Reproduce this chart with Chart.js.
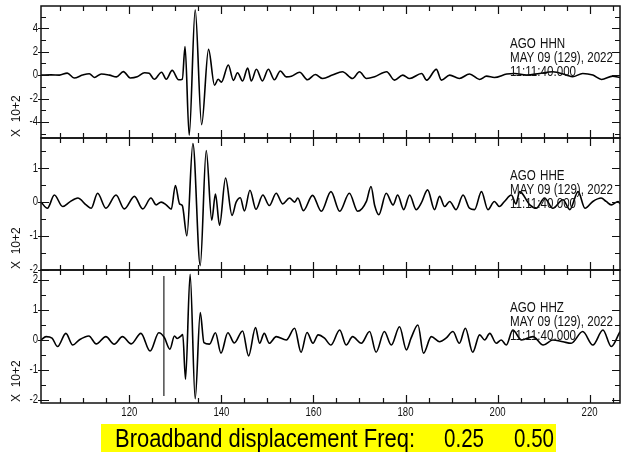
<!DOCTYPE html>
<html>
<head>
<meta charset="utf-8">
<script src="https://cdn.jsdelivr.net/npm/chart.js@4.4.1/dist/chart.umd.min.js"></script>
<style>
  html, body { margin: 0; padding: 0; background: #fff; }
  #wrap { position: relative; width: 622px; height: 452px; overflow: hidden; }
  #wrap canvas { position: absolute; left: 0; top: 0; }
  #banner {
    position: absolute; left: 101px; top: 424px; width: 455px; height: 28px;
    background: #ffff00; color: #000;
  }
  #banner span {
    position: absolute; top: 0; display: inline-block;
    font: 26px "Liberation Sans", sans-serif; line-height: 28px; white-space: pre;
    transform-origin: 0 0;
  }
</style>
</head>
<body>
<div id="wrap">
  <canvas id="c1" width="622" height="452"></canvas>
  <canvas id="c2" width="622" height="452"></canvas>
  <canvas id="c3" width="622" height="452"></canvas>
  <div id="banner"></div>
</div>
<script>
// axe du temps (s) commun aux trois traces
const X_MIN = 100.8, X_MAX = 226.6;
const xTicks = [120, 140, 160, 180, 200, 220];
const X_MINOR = 5;

// en-tête des traces
const station = 'AGO';
const dateLine = 'MAY 09 (129), 2022';
const timeLine = '11:11:40.000';
const scaleLabel = 'X  10+2';

// bandeau du bas
const bannerWords = ['Broadband displacement Freq:', '0.25', '0.50'];

// HHN (x 10+2)
const hhnT = [100.8,103.0,104.8,106.5,108.0,109.8,111.3,112.4,113.9,115.7,
  117.2,118.7,120.2,121.7,123.3,124.3,125.4,127.0,128.0,129.3,
  130.7,131.5,132.1,133.0,134.3,135.7,137.2,138.5,139.3,140.0,
  141.5,142.6,143.5,144.6,145.7,146.5,147.6,148.9,150.2,151.5,
  152.8,154.1,155.2,157.0,158.7,160.4,162.0,164.1,166.3,168.5,
  170.0,171.5,173.3,175.9,177.6,179.4,180.9,183.5,184.6,186.7,
  187.8,189.6,191.7,193.9,196.1,197.6,199.3,202.0,203.7,206.3,
  209.1,212.0,215.0,216.3,218.5,220.7,222.6,225.0,226.6];
const hhnV = [0,0.02,0,0.17,-0.25,0,0.12,-0.2,0.1,0,
  -0.15,0.3,-0.25,-0.15,0.2,0.15,-0.35,0.25,-0.35,0.4,
  -0.4,-0.35,2.43,-5.14,5.57,-4.23,2.2,-0.86,-0.35,-0.6,
  0.86,-0.45,0.2,-0.5,0.6,-0.5,0.5,-0.5,0.5,-0.4,
  0.35,-0.15,-0.1,0.25,-0.4,0.05,-0.29,0,0.29,-0.29,
  0.29,-0.29,-0.14,0.29,-0.43,0,-0.29,0.14,-0.43,0.49,
  -0.43,0,-0.29,0.09,-0.37,-0.09,-0.2,0.09,0.14,0,
  0.14,0.29,0,-0.14,0.14,0,-0.37,-0.09,-0.2];

// HHE
const hheT = [100.8,102.2,103.7,105.5,107.0,108.8,110.6,111.7,113.1,114.9,
  117.1,118.9,121.1,122.9,124.7,125.8,126.9,128.0,129.1,130.0,
  130.9,131.5,132.5,133.8,135.4,136.7,137.9,138.7,139.6,140.9,
  142.3,143.2,144.1,145.0,146.2,147.5,149.0,150.4,151.9,153.3,
  154.8,155.9,156.6,157.8,159.8,161.7,163.8,165.7,167.8,169.6,
  171.5,172.5,173.3,174.2,175.8,177.3,178.3,179.6,180.9,182.3,
  183.4,184.8,186.3,187.4,188.5,189.6,191.0,192.5,193.9,195.0,
  196.5,197.9,199.3,200.4,201.5,203.0,204.0,204.8,207.0,208.4,
  210.2,212.0,214.2,215.7,217.5,219.0,220.7,222.5,223.6,224.7,
  226.2,226.6];
const hheV = [0,-0.18,0.21,-0.13,0,0.12,-0.08,-0.18,0.26,-0.18,
  0.21,-0.2,0.17,-0.2,0.12,-0.08,0,-0.08,-0.21,0.49,
  -0.05,-0.1,-0.99,1.73,-1.87,1.52,-0.53,0.24,-0.68,0.71,
  -0.39,0,0.13,-0.26,0.35,-0.21,0.21,-0.1,0.26,-0.05,
  0.12,0,0.12,-0.25,0.2,-0.27,0.31,-0.27,0.26,-0.27,
  0.02,0.46,-0.1,-0.37,0.26,-0.08,0.21,-0.22,0.21,-0.22,
  -0.03,0.36,-0.22,0.17,-0.13,0.02,-0.22,0.21,-0.18,-0.22,
  0.31,-0.22,0.02,-0.13,0.02,0.21,-0.05,0.31,-0.08,-0.18,
  0.12,-0.18,0.07,-0.22,0.31,-0.18,0.02,0.12,0.02,-0.08,
  0.02,-0.05];

// HHZ
const hhzT = [100.8,101.9,103.2,104.4,106.2,107.7,109.1,111.2,112.8,114.9,
  116.7,118.5,120.4,122.5,124.5,126.4,127.6,128.8,129.8,130.4,
  131.2,131.6,132.2,133.2,134.3,135.4,136.2,137.4,138.7,139.9,
  141.4,142.8,144.6,145.9,147.4,148.3,149.3,150.4,151.9,154.1,
  155.9,157.3,158.6,159.9,161.0,162.4,163.8,165.7,167.1,168.5,
  170.4,172.2,173.6,175.4,176.9,178.7,180.2,181.2,182.7,183.9,
  185.6,187.4,188.8,190.3,191.7,193.0,194.6,196.1,197.2,198.3,
  199.7,200.8,201.9,203.3,205.2,207.7,209.9,212.0,214.2,216.0,
  218.5,220.7,222.9,224.7,226.6];
const hhzV = [0,0.11,0.06,-0.22,0.22,-0.17,0,0.13,-0.13,0.11,
  -0.14,0.11,-0.13,0.22,-0.37,0.24,0.08,-0.31,0.13,0.05,
  0.13,0.18,-1.31,2.19,-1.96,0.91,-0.09,-0.14,0.24,-0.44,
  0.24,-0.1,0.3,-0.53,0.41,-0.11,0.22,-0.11,0.11,0,
  0.39,-0.41,0.25,-0.11,0.17,0.06,-0.17,0.33,-0.17,0.11,
  -0.11,0.28,-0.41,0.28,-0.17,0.44,-0.33,0.06,0.5,-0.44,
  0.11,-0.06,0.06,0.28,-0.11,0.39,-0.41,0.17,0,0.22,
  -0.11,0,-0.17,0.33,0,0.11,-0.17,0,-0.06,-0.11,
  0.28,-0.17,0.33,-0.22,0.28];

// marque de pointé sur HHZ
const pickT = [127.5, 127.5];
const pickV = [2.13, -1.87];

const panels = [
  { id: 'c1', chan: 'HHN', t: hhnT, v: hhnV, yMin: -5.37, yMax: 5.9,
    yTicks: [-4, -2, 0, 2, 4], yMinor: 1, top: 6, bottom: 138 },
  { id: 'c2', chan: 'HHE', t: hheT, v: hheV, yMin: -2.0, yMax: 1.89,
    yTicks: [-2, -1, 0, 1], yMinor: 0.5, top: 138, bottom: 270 },
  { id: 'c3', chan: 'HHZ', t: hhzT, v: hhzV, yMin: -2.1, yMax: 2.33,
    yTicks: [-2, -1, 0, 1, 2], yMinor: 0.5, top: 270, bottom: 403,
    pick: true, xLabels: true },
];

const FONT = '"Liberation Sans", "DejaVu Sans", sans-serif';

// texte comprimé horizontalement (police étroite absente)
function narrowText(ctx, text, x, y, sx) {
  ctx.save();
  ctx.translate(x, y);
  ctx.scale(sx, 1);
  ctx.fillText(text, 0, 0);
  ctx.restore();
}

function sacFrame(p) {
  return {
    id: 'sacFrame',
    afterDraw(chart) {
      const ctx = chart.ctx, a = chart.chartArea;
      const xs = chart.scales.x, ys = chart.scales.y;
      ctx.save();
      ctx.strokeStyle = '#111';
      ctx.fillStyle = '#111';
      ctx.lineWidth = 1.5;
      ctx.strokeRect(a.left, a.top, a.right - a.left, a.bottom - a.top);

      // graduations vers l'intérieur
      ctx.lineWidth = 1.2;
      ctx.beginPath();
      for (let t = Math.ceil(X_MIN / X_MINOR) * X_MINOR; t <= X_MAX; t += X_MINOR) {
        const px = Math.round(xs.getPixelForValue(t)) + 0.5;
        const len = xTicks.includes(t) ? 8 : 5;
        ctx.moveTo(px, a.top); ctx.lineTo(px, a.top + len);
        ctx.moveTo(px, a.bottom); ctx.lineTo(px, a.bottom - len);
      }
      for (let v = Math.ceil(p.yMin / p.yMinor) * p.yMinor; v <= p.yMax; v += p.yMinor) {
        const py = Math.round(ys.getPixelForValue(v)) + 0.5;
        const major = p.yTicks.includes(v);
        const len = major ? 8 : 5;
        ctx.moveTo(major ? a.left - 3 : a.left, py); ctx.lineTo(a.left + len, py);
        ctx.moveTo(a.right, py); ctx.lineTo(a.right - len, py);
      }
      ctx.stroke();

      ctx.font = '12px ' + FONT;
      ctx.textAlign = 'right';
      ctx.textBaseline = 'middle';
      p.yTicks.forEach(v => narrowText(ctx, String(v), a.left - 3, ys.getPixelForValue(v), 0.8));

      if (p.xLabels) {
        ctx.textAlign = 'center';
        ctx.textBaseline = 'top';
        ctx.font = '12px ' + FONT;
        xTicks.forEach(t => narrowText(ctx, String(t), xs.getPixelForValue(t), a.bottom + 4, 0.8));
      }

      // X 10+2
      ctx.save();
      ctx.translate(17, a.bottom - 1);
      ctx.rotate(-Math.PI / 2);
      ctx.font = '12px ' + FONT;
      ctx.textAlign = 'left';
      ctx.textBaseline = 'middle';
      ctx.fillText(scaleLabel, 0, 0);
      ctx.restore();

      ctx.font = '14px ' + FONT;
      ctx.textAlign = 'left';
      ctx.textBaseline = 'alphabetic';
      const sx = 103 / ctx.measureText(dateLine).width;
      narrowText(ctx, station, 510, a.top + 42, sx);
      narrowText(ctx, p.chan, 540, a.top + 42, sx);
      narrowText(ctx, dateLine, 510, a.top + 56, sx);
      narrowText(ctx, timeLine, 510, a.top + 69.5, sx);
      ctx.restore();
    }
  };
}

panels.forEach(p => {
  const datasets = [{
    data: p.t.map((t, i) => ({ x: t, y: p.v[i] })),
    borderColor: '#000',
    borderWidth: 1.6,
    pointRadius: 0,
    fill: false,
    cubicInterpolationMode: 'monotone',
  }];
  if (p.pick) {
    datasets.push({
      data: pickT.map((t, i) => ({ x: t, y: pickV[i] })),
      borderColor: '#222',
      borderWidth: 1.2,
      pointRadius: 0,
      fill: false,
      tension: 0,
    });
  }
  new Chart(document.getElementById(p.id), {
    type: 'line',
    data: { datasets },
    options: {
      responsive: false,
      animation: false,
      events: [],
      layout: { padding: { left: 41, right: 2, top: p.top, bottom: 452 - p.bottom } },
      plugins: { legend: { display: false }, tooltip: { enabled: false } },
      scales: {
        x: { type: 'linear', display: false, min: X_MIN, max: X_MAX },
        y: { type: 'linear', display: false, min: p.yMin, max: p.yMax },
      },
    },
    plugins: [sacFrame(p)],
  });
});

// bandeau : chaque mot placé et comprimé comme sur la référence
const banner = document.getElementById('banner');
const wordBoxes = [[14, 300], [343, 40], [413, 40]];
bannerWords.forEach((w, i) => {
  const s = document.createElement('span');
  s.textContent = w;
  s.style.left = wordBoxes[i][0] + 'px';
  banner.appendChild(s);
  s.style.transform = 'scaleX(' + (wordBoxes[i][1] / s.getBoundingClientRect().width) + ')';
});
</script>
</body>
</html>
